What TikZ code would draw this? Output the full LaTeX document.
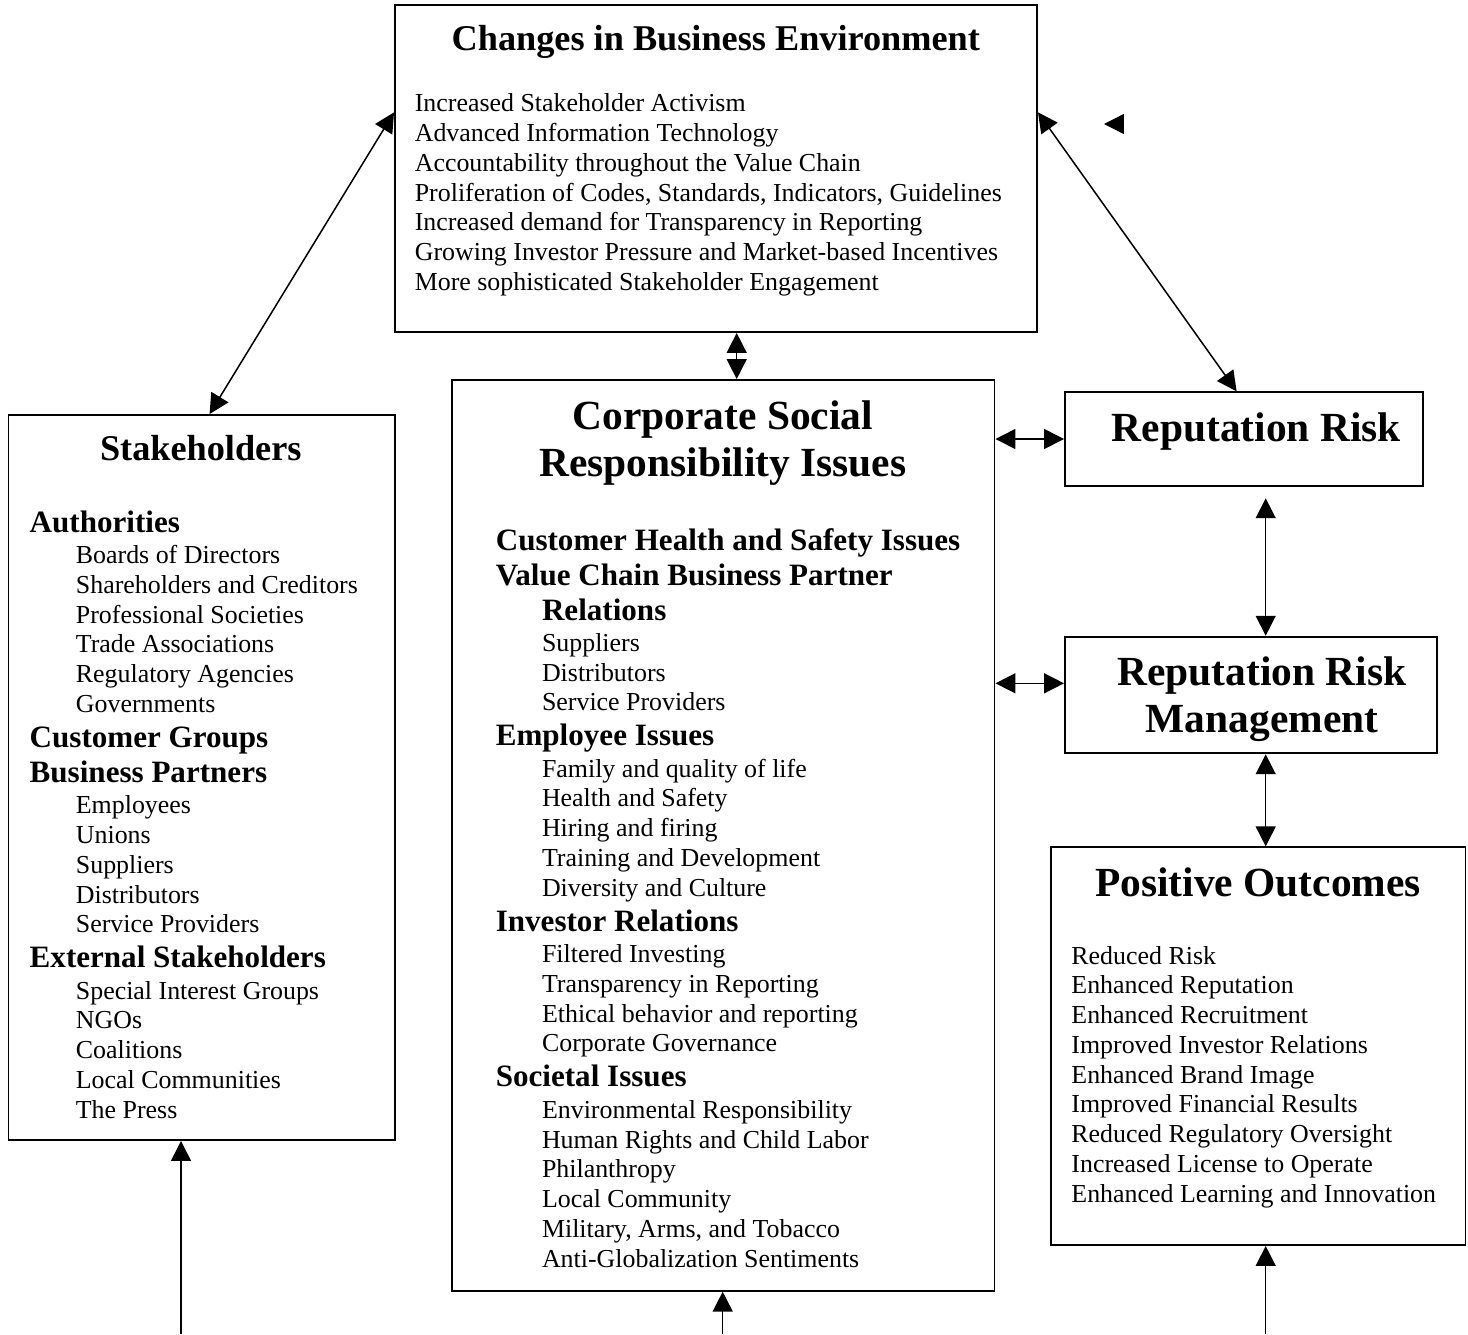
\documentclass[tikz,border=0pt]{standalone}
\usepackage{fontspec}
\setmainfont{Liberation Serif}
\usepackage{tikz}
\usetikzlibrary{
    arrows.meta,
    positioning,
    fit,
    calc
}

\newcommand{\hd}[1]{{\bfseries\fontsize{14.4}{16.6}\selectfont #1}}
\newcommand{\ind}{\hspace*{21.4pt}}

\begin{document}
\begin{tikzpicture}[x=0.4633pt, y=-0.4633pt,
    box/.style={
        rectangle,
        draw=black,
        line width=0.9pt,
        inner sep=0pt
    },
    boxtitle/.style={
        font=\bfseries\fontsize{16.8}{19.3}\selectfont,
        anchor=base,
        inner sep=0pt
    },
    bigtitle/.style={
        font=\bfseries\fontsize{19.2}{21.8}\selectfont,
        align=center,
        inner sep=0pt
    },
    itemlist/.style={
        font=\fontsize{12}{13.8}\selectfont,
        align=left,
        anchor=north west,
        inner sep=0pt
    },
    arrow/.style={-{Triangle[length=9.2pt,width=9.2pt]}, line width=0.7pt},
    dblarrow/.style={{Triangle[length=9.2pt,width=9.2pt]}-{Triangle[length=9.2pt,width=9.2pt]}, line width=0.7pt}
]
\useasboundingbox (0,0) rectangle (1468,1334);

% ===== Boxes =====
\node[box, fit={(395,5) (1037,332)}] (env) {};
\node[box, fit={(8.5,415) (395,1140)}] (stake) {};
\node[box, fit={(452,380) (994.5,1290.7)}] (csr) {};
\node[box, fit={(1065,392.3) (1422.7,485.7)}] (rrisk) {};
\node[box, fit={(1065,636.7) (1436.7,753.3)}] (rrm) {};
\node[box, fit={(1051,847.3) (1465.5,1245)}] (outc) {};

% ===== Changes in Business Environment =====
\node[boxtitle] (envtitle) at (715.8,50) {Changes in Business Environment};
\node[itemlist] (envlist) at (414.4,93.3) {
    Increased Stakeholder Activism\\
    Advanced Information Technology\\
    Accountability throughout the Value Chain\\
    Proliferation of Codes, Standards, Indicators, Guidelines\\
    Increased demand for Transparency in Reporting\\
    Growing Investor Pressure and Market-based Incentives\\
    More sophisticated Stakeholder Engagement
};

% ===== Stakeholders =====
\node[boxtitle] (staketitle) at (200.8,460) {Stakeholders};
\node[itemlist] (stakelist) at (29.3,510.2) {
    \hd{Authorities}\\[0.7pt]
    \ind Boards of Directors\\
    \ind Shareholders and Creditors\\
    \ind Professional Societies\\
    \ind Trade Associations\\
    \ind Regulatory Agencies\\
    \ind Governments\\[2.4pt]
    \hd{Customer Groups}\\[2.4pt]
    \hd{Business Partners}\\[0.7pt]
    \ind Employees\\
    \ind Unions\\
    \ind Suppliers\\
    \ind Distributors\\
    \ind Service Providers\\[2.4pt]
    \hd{External Stakeholders}\\[0.7pt]
    \ind Special Interest Groups\\
    \ind NGOs\\
    \ind Coalitions\\
    \ind Local Communities\\
    \ind The Press
};

% ===== CSR issues =====
\node[bigtitle, anchor=north] (csrtitle) at (722.8,400.7) {Corporate Social\\Responsibility Issues};
\node[itemlist] (csrlist) at (495.4,527.8) {
    \hd{Customer Health and Safety Issues}\\[2.4pt]
    \hd{Value Chain Business Partner}\\[2.4pt]
    \ind\hd{Relations}\\[0.7pt]
    \ind Suppliers\\
    \ind Distributors\\
    \ind Service Providers\\[2.4pt]
    \hd{Employee Issues}\\[0.7pt]
    \ind Family and quality of life\\
    \ind Health and Safety\\
    \ind Hiring and firing\\
    \ind Training and Development\\
    \ind Diversity and Culture\\[2.4pt]
    \hd{Investor Relations}\\[0.7pt]
    \ind Filtered Investing\\
    \ind Transparency in Reporting\\
    \ind Ethical behavior and reporting\\
    \ind Corporate Governance\\[2.4pt]
    \hd{Societal Issues}\\[0.7pt]
    \ind Environmental Responsibility\\
    \ind Human Rights and Child Labor\\
    \ind Philanthropy\\
    \ind Local Community\\
    \ind Military, Arms, and Tobacco\\
    \ind Anti-Globalization Sentiments
};

% ===== Right column =====
\node[bigtitle, anchor=base] (rrisktitle) at (1256.3,441.7) {Reputation Risk};
\node[bigtitle, anchor=north] (rrmtitle) at (1262,656.4) {Reputation Risk\\Management};
\node[bigtitle, anchor=base] (outctitle) at (1258,896) {Positive Outcomes};
\node[itemlist] (outclist) at (1071,945.6) {
    Reduced Risk\\
    Enhanced Reputation\\
    Enhanced Recruitment\\
    Improved Investor Relations\\
    Enhanced Brand Image\\
    Improved Financial Results\\
    Reduced Regulatory Oversight\\
    Increased License to Operate\\
    Enhanced Learning and Innovation
};

% ===== Connectors =====
\coordinate (vcol) at (736.7,0);
\coordinate (rcol) at (1265.7,0);
\coordinate (rrmrow) at (0,683.3);
\coordinate (lone) at (1104,124);
\coordinate (foot1) at (181,1334);
\coordinate (foot2) at (722.7,1334);
\coordinate (foot3) at (1265.7,1334);

\draw[dblarrow] ($(stake.north)+(7.8,0)$) -- ($(env.north west)+(0,108.3)$);
\draw[dblarrow] ($(env.north east)+(0,108.3)$) -- ($(rrisk.north)+(-7.2,0)$);
\draw[dblarrow] (env.south -| vcol) -- (csr.north -| vcol);
\draw[dblarrow] (csr.east |- rrisk.west) -- (rrisk.west);
\draw[dblarrow] (csr.east |- rrmrow) -- (rrm.west |- rrmrow);
\draw[dblarrow] ($(rrisk.south -| rcol)+(0,11.6)$) -- (rrm.north -| rcol);
\draw[dblarrow] (rrm.south -| rcol) -- (outc.north -| rcol);
\draw[arrow] ($(lone)+(20,0)$) -- (lone);

\draw[arrow] (foot1) -- (foot1 |- stake.south);
\draw[arrow] (foot2) -- (foot2 |- csr.south);
\draw[arrow] (foot3) -- (foot3 |- outc.south);

\end{tikzpicture}
\end{document}
